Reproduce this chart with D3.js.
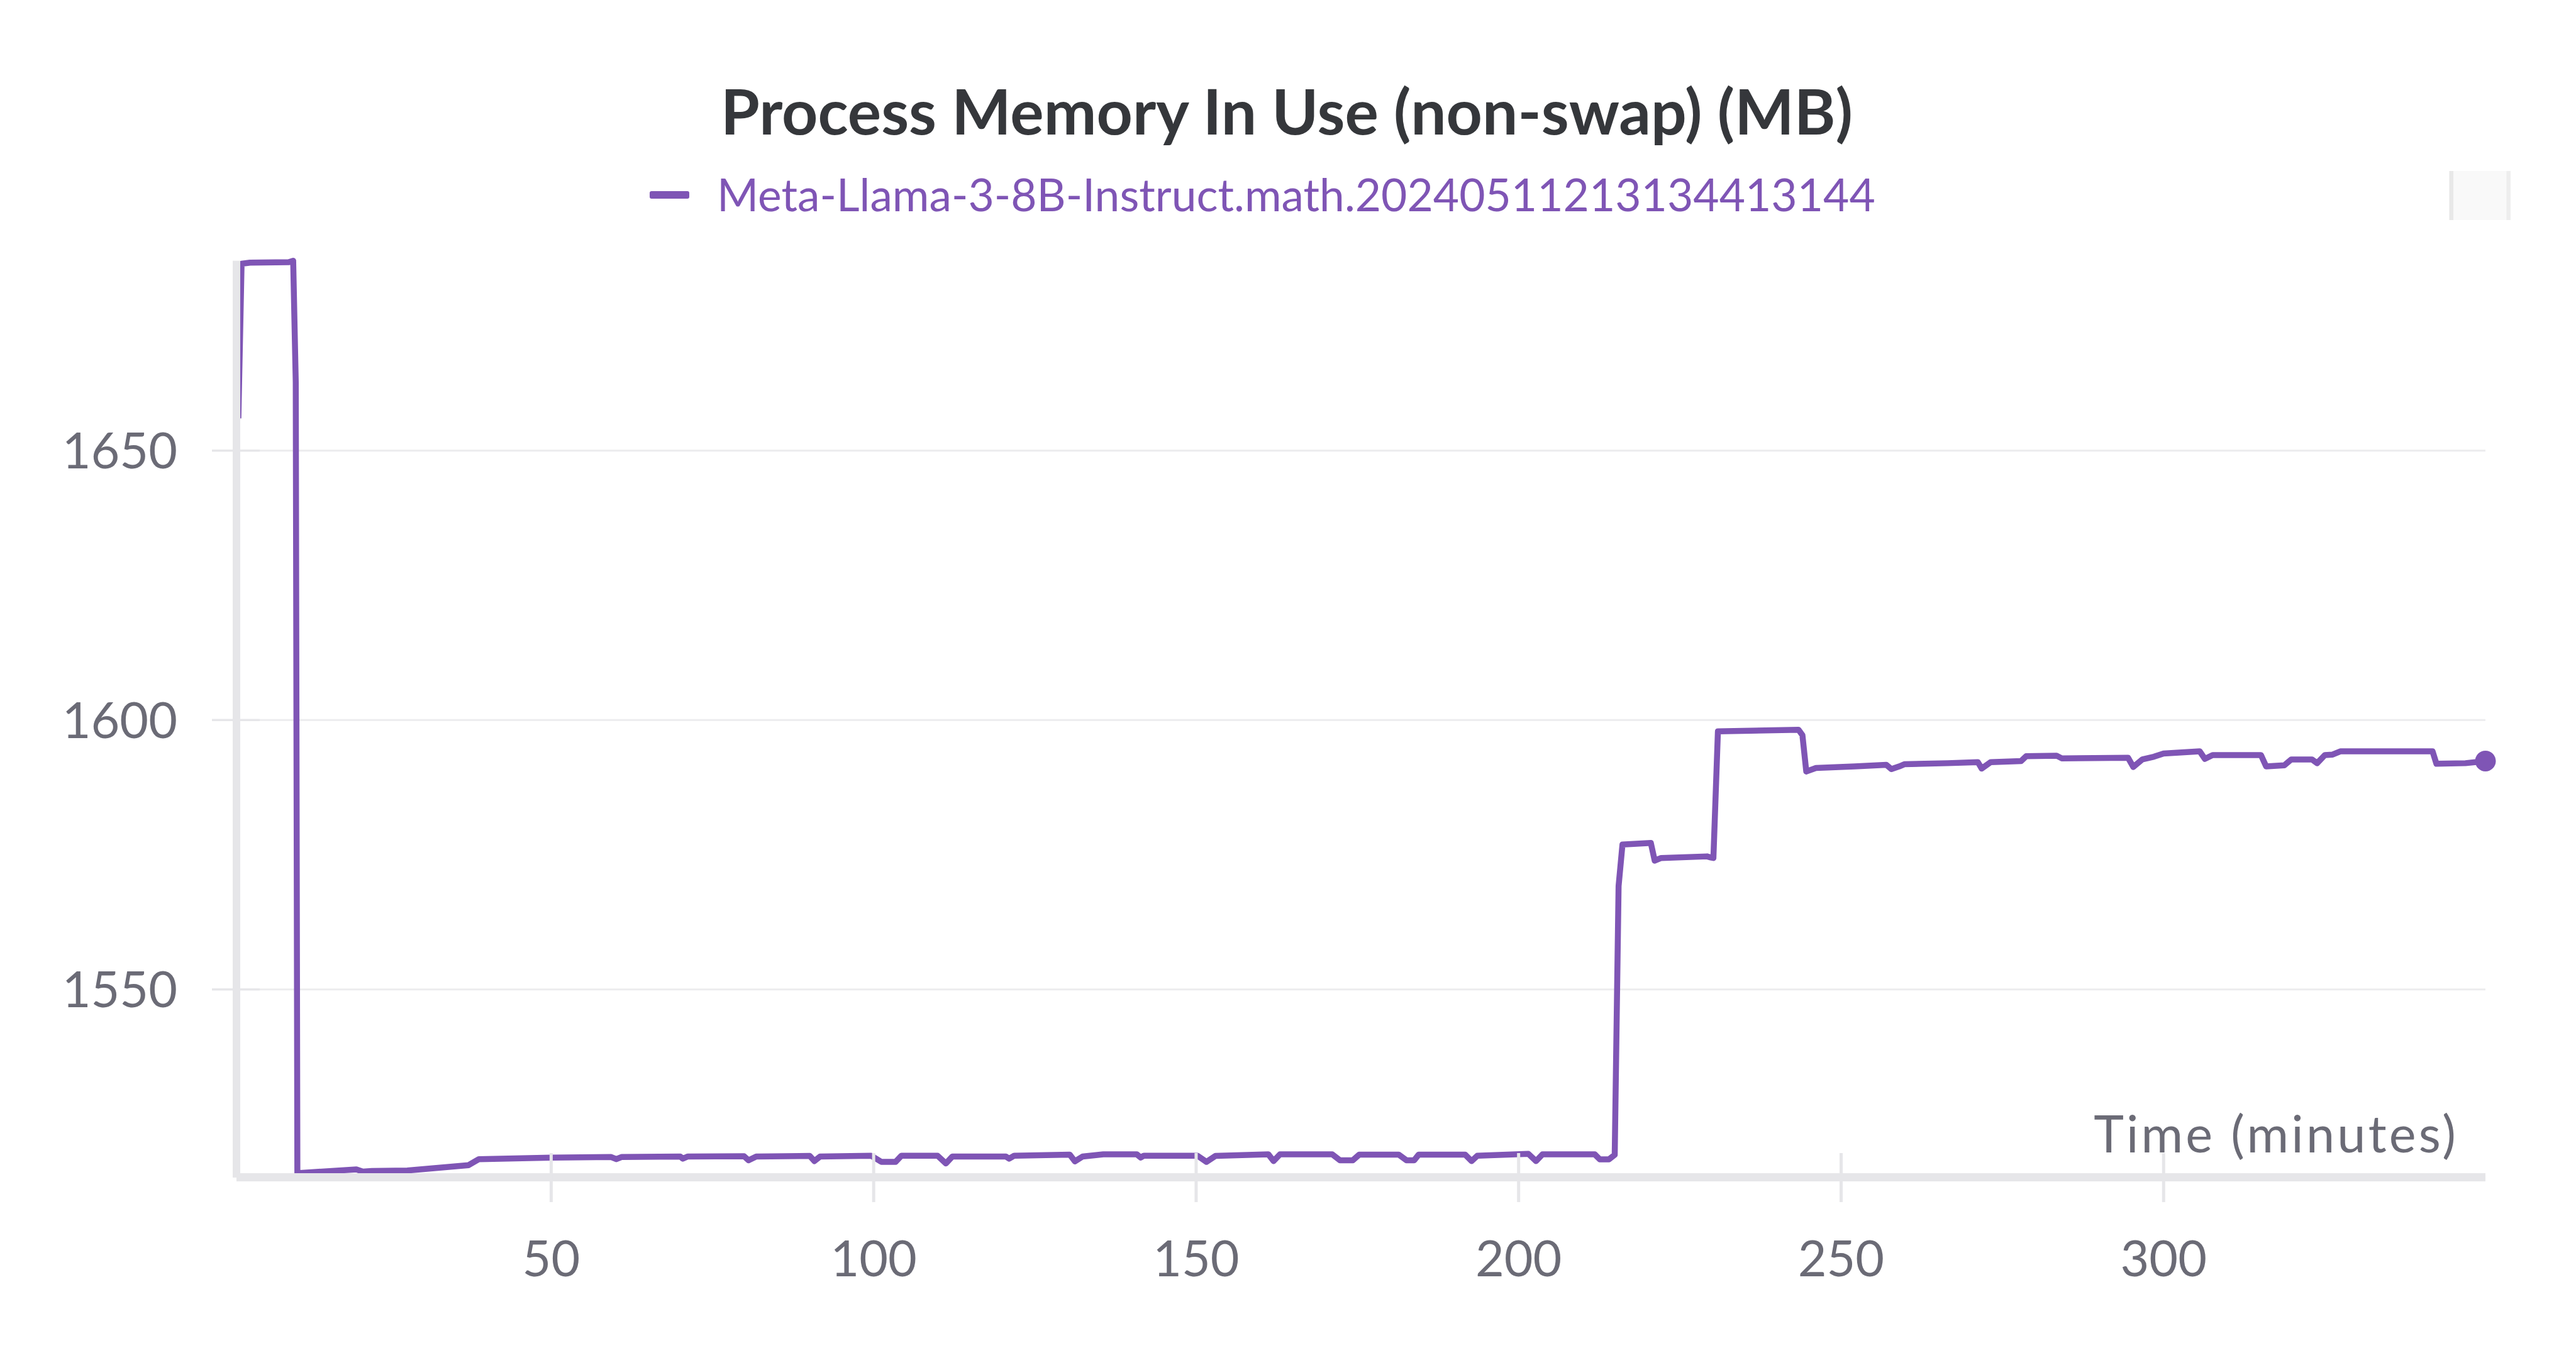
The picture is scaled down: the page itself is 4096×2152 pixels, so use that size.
<!DOCTYPE html>
<html>
<head>
<meta charset="utf-8">
<script src="https://cdn.jsdelivr.net/npm/d3@7"></script>
<style>
  html, body { margin: 0; padding: 0; background: #ffffff; }
  svg { display: block; }
</style>
</head>
<body>
<svg id="chart" width="4096" height="2152"></svg>
<script>
// ---------------- DATA ----------------
const chartTitle = "Process Memory In Use (non-swap) (MB)";
const seriesName = "Meta-Llama-3-8B-Instruct.math.20240511213134413144";
const xAxisLabel = "Time (minutes)";

const timeMin = [
  1.5, 2.0, 3.3, 9.3, 10.0, 10.4, 10.65, 19.8, 20.8, 22.2, 27.7, 37.2, 38.8,
  50.0, 59.3, 60.1, 60.9, 70.0, 70.4, 71.2, 79.9, 80.6, 81.8, 90.1, 90.8, 91.7,
  99.6, 101.2, 103.4, 104.3, 109.9, 111.2, 112.2, 120.5, 121.0, 121.8, 130.4,
  131.2, 132.4, 135.6, 140.8, 141.4, 141.9, 150.2, 151.6, 153.0, 161.2, 162.0,
  163.0, 171.1, 172.3, 174.3, 175.3, 181.4, 182.6, 183.8, 184.5, 191.7, 192.7,
  193.6, 201.5, 202.7, 203.7, 211.8, 212.6, 214.0, 214.9, 215.5, 216.1, 220.5,
  221.1, 222.1, 229.2, 229.8, 230.2, 230.9, 243.4, 244.0, 244.6, 246.1, 252.1,
  257.0, 257.8, 259.0, 259.8, 266.5, 271.2, 271.8, 273.2, 277.9, 278.7, 283.4,
  284.2, 294.5, 295.3, 296.7, 298.5, 300.0, 305.6, 306.4, 307.6, 315.1, 315.9,
  318.7, 319.8, 323.0, 323.8, 325.0, 326.2, 327.4, 341.7, 342.3, 346.8, 349.9
];
const memoryMB = [
  1656.0, 1684.7, 1684.9, 1685.0, 1685.26, 1662.7, 1515.9, 1516.6, 1516.2, 1516.3, 1516.4, 1517.4, 1518.5,
  1518.8, 1518.9, 1518.5, 1518.9, 1519.0, 1518.6, 1519.0, 1519.05, 1518.3, 1519.0, 1519.1, 1518.15, 1519.0,
  1519.15, 1518.0, 1518.0, 1519.15, 1519.15, 1517.7, 1519.0, 1519.0, 1518.6, 1519.15, 1519.35,
  1518.1, 1519.0, 1519.4, 1519.4, 1518.8, 1519.15, 1519.15, 1518.0, 1519.1, 1519.4, 1518.15,
  1519.4, 1519.4, 1518.3, 1518.3, 1519.35, 1519.35, 1518.3, 1518.3, 1519.35, 1519.35, 1518.15,
  1519.15, 1519.5, 1518.15, 1519.4, 1519.4, 1518.46, 1518.46, 1519.3, 1569.2, 1576.9, 1577.2,
  1573.9, 1574.4, 1574.7, 1574.5, 1574.4, 1597.9, 1598.2, 1597.2, 1590.45, 1591.1, 1591.4,
  1591.7, 1590.9, 1591.4, 1591.8, 1592.0, 1592.2, 1591.0, 1592.2, 1592.4, 1593.3, 1593.4,
  1592.9, 1593.0, 1591.3, 1592.7, 1593.2, 1593.8, 1594.2, 1592.8, 1593.5, 1593.5, 1591.4,
  1591.6, 1592.7, 1592.7, 1592.0, 1593.5, 1593.6, 1594.2, 1594.2, 1591.9, 1592.0, 1592.4
];
const xTickValues = [50, 100, 150, 200, 250, 300];
const yTickValues = [1550, 1600, 1650];

// ---------------- LAYOUT / STYLE ----------------
const W = 4096, H = 2152;
const plot = { left: 379, right: 3952, top: 414.7, bottom: 1866 };
const lineColor = "#7f55b5";
const labelColor = "#6b6b76";
const axisColor = "#e6e6e9";
const gridColor = "#ececee";
const fontFamily = "Lato, 'Noto Sans', sans-serif";

const data = timeMin.map((t, i) => ({ t, v: memoryMB[i] }));

const x = d3.scaleLinear()
  .domain(d3.extent(timeMin))
  .range([plot.left, plot.right]);
const y = d3.scaleLinear()
  .domain(d3.extent(memoryMB))
  .range([plot.bottom, plot.top]);

const svg = d3.select("#chart");
svg.append("rect").attr("width", W).attr("height", H).attr("fill", "#ffffff");

// grid lines (y)
const grid = svg.append("g").attr("class", "grid");
grid.selectAll("line.g")
  .data(yTickValues)
  .join("line")
  .attr("class", "g")
  .attr("x1", 413).attr("x2", plot.right)
  .attr("y1", d => y(d)).attr("y2", d => y(d))
  .attr("stroke", gridColor).attr("stroke-width", 3);

// line
const lineGen = d3.line().x(d => x(d.t)).y(d => y(d.v));
svg.append("path")
  .datum(data)
  .attr("d", lineGen)
  .attr("fill", "none")
  .attr("stroke", lineColor)
  .attr("stroke-width", 9.5)
  .attr("stroke-linejoin", "round")
  .attr("stroke-linecap", "butt");

// end dot
const last = data[data.length - 1];
svg.append("circle")
  .attr("cx", x(last.t)).attr("cy", y(last.v)).attr("r", 16.5)
  .attr("fill", lineColor);

// axis bands
svg.append("rect")
  .attr("x", 370).attr("y", plot.top)
  .attr("width", 12).attr("height", 1873 - plot.top)
  .attr("fill", axisColor);
svg.append("rect")
  .attr("x", 376).attr("y", plot.bottom)
  .attr("width", plot.right - 376).attr("height", 13)
  .attr("fill", axisColor);

// y ticks (crossing axis) + labels
const yAxisG = svg.append("g").attr("class", "y-axis");
yAxisG.selectAll("line.t")
  .data(yTickValues)
  .join("line")
  .attr("class", "t")
  .attr("x1", 337).attr("x2", 413)
  .attr("y1", d => y(d)).attr("y2", d => y(d))
  .attr("stroke", axisColor).attr("stroke-width", 3.5);
yAxisG.selectAll("text")
  .data(yTickValues)
  .join("text")
  .attr("x", 282)
  .attr("y", d => y(d) + 28.5)
  .attr("text-anchor", "end")
  .attr("font-family", fontFamily)
  .attr("font-size", 79)
  .attr("fill", labelColor)
  .text(d => d3.format("d")(d));

// x ticks + labels
const xAxisG = svg.append("g").attr("class", "x-axis");
xAxisG.selectAll("line.t")
  .data(xTickValues)
  .join("line")
  .attr("class", "t")
  .attr("x1", d => x(d)).attr("x2", d => x(d))
  .attr("y1", 1834).attr("y2", 1912)
  .attr("stroke", axisColor).attr("stroke-width", 5);
xAxisG.selectAll("text")
  .data(xTickValues)
  .join("text")
  .attr("x", d => x(d))
  .attr("y", 2030)
  .attr("text-anchor", "middle")
  .attr("font-family", fontFamily)
  .attr("font-size", 79)
  .attr("fill", labelColor)
  .text(d => d3.format("d")(d));

// x axis title
svg.append("text")
  .attr("x", 3909).attr("y", 1833)
  .attr("text-anchor", "end")
  .attr("font-family", fontFamily)
  .attr("font-size", 81)
  .attr("letter-spacing", 4.2)
  .attr("fill", labelColor)
  .text(xAxisLabel);

// chart title
svg.append("text")
  .attr("x", 2046).attr("y", 214)
  .attr("text-anchor", "middle")
  .attr("font-family", fontFamily)
  .attr("font-weight", 700)
  .attr("font-size", 100)
  .attr("fill", "#35373b")
  .text(chartTitle);

// legend
svg.append("rect")
  .attr("x", 1033).attr("y", 304).attr("width", 63).attr("height", 12)
  .attr("rx", 3).attr("fill", lineColor);
svg.append("text")
  .attr("x", 1140).attr("y", 336)
  .attr("font-family", fontFamily)
  .attr("font-size", 71.3)
  .attr("fill", lineColor)
  .text(seriesName);

// top-right control box
svg.append("rect").attr("x", 3894.5).attr("y", 272).attr("width", 97.5).attr("height", 78).attr("fill", "#f9f9f9");
svg.append("rect").attr("x", 3894.5).attr("y", 272).attr("width", 6.5).attr("height", 78).attr("fill", "#e8e8e8");
svg.append("rect").attr("x", 3985.5).attr("y", 272).attr("width", 6.5).attr("height", 78).attr("fill", "#eeeeee");
</script>
</body>
</html>
